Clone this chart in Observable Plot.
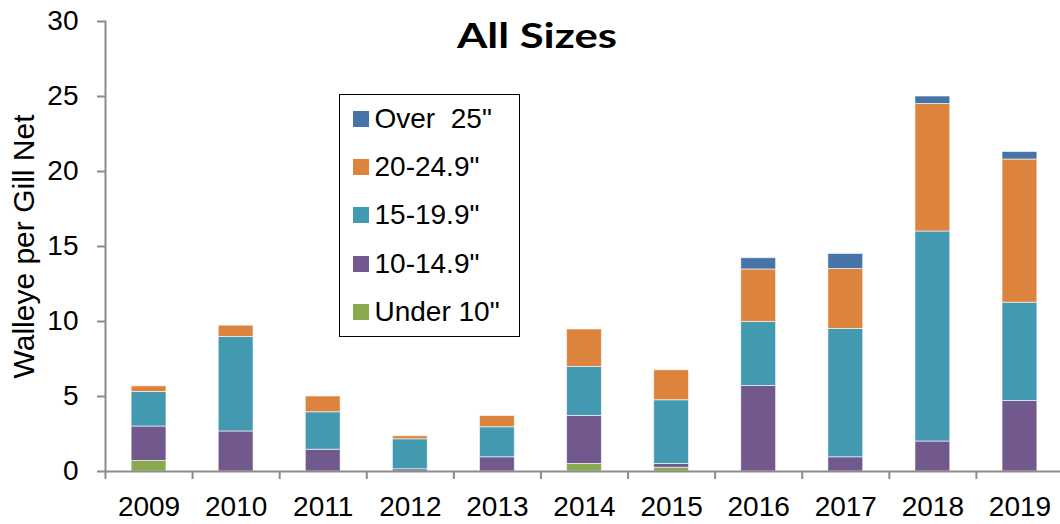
<!DOCTYPE html>
<html>
<head>
<meta charset="utf-8">
<script src="https://cdn.jsdelivr.net/npm/d3@7"></script>
<script src="https://cdn.jsdelivr.net/npm/@observablehq/plot@0.6"></script>
<style>
  html, body { margin: 0; padding: 0; background: #fff; }
  #wrap { position: relative; width: 1060px; height: 524px; overflow: hidden; }
  #title { position: absolute; left: 0; width: 1074px; top: 13px; text-align: center; }
  #title span { display: inline-block; transform: scaleX(1.25); transform-origin: center;
           font-family: Lato, "Open Sans", sans-serif; font-weight: 700; font-size: 35px; color: #000; }
  #legend { position: absolute; left: 339px; top: 94px; width: 181px; height: 243px; box-sizing: border-box;
            border: 1.5px solid #000; background: #fff; font-family: "Liberation Sans", Arial, sans-serif;
            font-size: 28px; color: #000; padding-top: 0px; }
  .item { display: flex; align-items: center; height: 48.2px; padding-left: 12.5px; white-space: pre; }
  .sw { width: 16px; height: 16px; margin-right: 6px; flex: none; }
</style>
</head>
<body>
<div id="wrap">
  <div id="chart"></div>
  <div id="title"><span></span></div>
  <div id="legend"></div>
</div>
<script>
// ---- data ----
const years = ["2009","2010","2011","2012","2013","2014","2015","2016","2017","2018","2019"];
const sizeClasses = ["Under 10\"", "10-14.9\"", "15-19.9\"", "20-24.9\"", "Over  25\""];
const under10 = [0.7, 0, 0, 0, 0, 0.5, 0.25, 0, 0, 0, 0];
const size10to14 = [2.3, 2.67, 1.45, 0.15, 0.95, 3.2, 0.25, 5.7, 0.95, 2.0, 4.7];
const size15to19 = [2.3, 6.3, 2.5, 2.0, 2.0, 3.27, 4.25, 4.27, 8.55, 14.0, 6.55];
const size20to24 = [0.38, 0.75, 1.05, 0.2, 0.75, 2.5, 2.0, 3.5, 4.0, 8.5, 9.55];
const over25 = [0, 0, 0, 0, 0, 0, 0, 0.75, 1.0, 0.5, 0.5];
const yTicks = [0, 5, 10, 15, 20, 25, 30];
const colors = ["#8AA84E", "#71598E", "#4399B0", "#DC843E", "#4673A8"];
const titleText = "All Sizes";
const yLabel = "Walleye per Gill Net";

const series = [under10, size10to14, size15to19, size20to24, over25];
const rows = [];
years.forEach((yr, i) => {
  sizeClasses.forEach((c, k) => rows.push({year: yr, size: c, value: series[k][i]}));
});

const W = 1060, H = 524, mL = 105, mR = -3;
const step = (W - mL - mR) / years.length;

const chart = Plot.plot({
  width: W,
  height: H,
  marginLeft: mL,
  marginRight: mR,
  marginTop: 21,
  marginBottom: 53,
  style: { fontFamily: "'Liberation Sans', Arial, sans-serif", fontSize: "28px", color: "#000", background: "#fff", overflow: "hidden" },
  x: { domain: years, paddingInner: 0.6, paddingOuter: 0.3, round: false, label: null },
  y: { domain: [0, 30], label: null },
  color: { domain: sizeClasses, range: colors },
  marks: [
    Plot.barY(rows, {x: "year", y: "value", fill: "size", stroke: "#fff", strokeOpacity: 0.6, strokeWidth: 1}),
    Plot.ruleY([0], {stroke: "#8c8c8c", strokeWidth: 2}),
    Plot.frame({anchor: "left", stroke: "#8c8c8c", strokeWidth: 2}),
    Plot.axisY({ticks: yTicks, tickSize: 8, tickPadding: 19, stroke: "#8c8c8c", strokeWidth: 2, fill: "#000",
                fontSize: 28, label: null}),
    Plot.text([yLabel], {frameAnchor: "left", textAnchor: "middle", rotate: -90, dx: -81, fontSize: 30, fill: "#000"}),
    Plot.axisX({tickSize: 8, tickFormat: () => "", dx: -step / 2, stroke: "#8c8c8c", strokeWidth: 2, label: null}),
    Plot.axisX({tickSize: 0, tickPadding: 25, fill: "#000", fontSize: 28, label: null})
  ]
});
document.getElementById("chart").appendChild(chart);
document.querySelector("#title span").textContent = titleText;

const legend = document.getElementById("legend");
[...sizeClasses].reverse().forEach((c) => {
  const k = sizeClasses.indexOf(c);
  const item = document.createElement("div");
  item.className = "item";
  const sw = document.createElement("span");
  sw.className = "sw";
  sw.style.background = colors[k];
  const t = document.createElement("span");
  t.textContent = c;
  item.appendChild(sw);
  item.appendChild(t);
  legend.appendChild(item);
});
</script>
</body>
</html>
